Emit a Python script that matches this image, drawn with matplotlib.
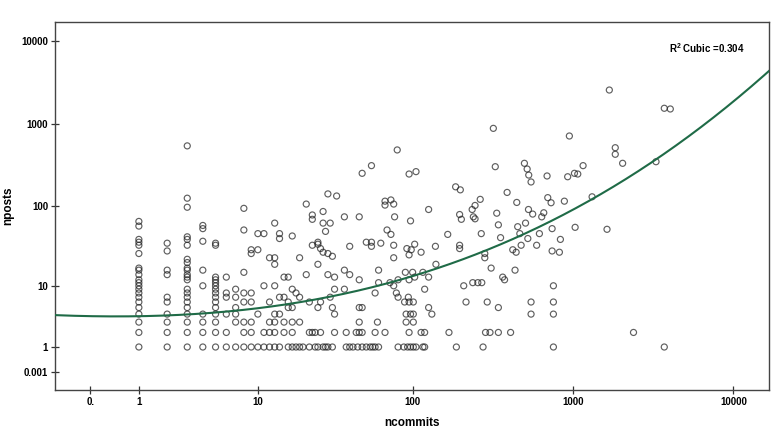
import numpy as np
import matplotlib
matplotlib.use("Agg")
import matplotlib.pyplot as plt

plt.rcParams['font.family'] = ['Liberation Sans', 'DejaVu Sans']
plt.rcParams['mathtext.fontset'] = 'custom'
plt.rcParams['mathtext.rm'] = 'Liberation Sans:bold'
plt.rcParams['mathtext.bf'] = 'Liberation Sans:bold'

# rows with few posts (nposts = 1..4), ncommits values along each row
row1_commits = [1, 2, 3, 4, 5, 6, 7, 8, 9, 10, 11, 12, 13, 14, 16, 17, 18, 19, 20, 22, 24, 25, 27,
                28, 29, 31, 38, 40, 42, 45, 48, 51, 54, 56, 58, 61, 81, 88, 93, 97, 101, 105, 116,
                119, 188, 276, 758, 3715]
row2_commits = [1, 2, 3, 4, 5, 6, 8, 9, 11, 12, 13, 15, 17, 22, 23, 24, 26, 32, 38, 44, 46, 48, 58,
                67, 95, 113, 119, 169, 286, 305, 344, 410, 2390]
row3_commits = [1, 2, 3, 4, 5, 7, 8, 9, 12, 13, 15, 17, 19, 46, 60, 91, 101]
row4_commits = [1, 2, 3, 4, 5, 6, 7, 10, 13, 14, 32, 91, 97, 101, 132, 550, 758]

# columns with few commits (ncommits = 1..5), nposts >= 5
col1_posts = [65, 57, 39, 36, 33, 26, 17, 16, 14, 12, 11, 10, 9, 8, 7, 6, 5]
col2_posts = [35, 28, 16, 14, 7, 6]
col3_posts = [540, 125, 97, 42, 39, 33, 22, 20, 17, 16, 14, 13, 12, 9, 8, 7, 6, 5]
col4_posts = [58, 53, 37, 16, 10]
col5_posts = [35, 33, 13, 12, 11, 10, 9, 8, 7, 6, 5]

# remaining projects (ncommits >= 6, nposts >= 5)
other_commits = [29, 33, 21, 23, 23, 27, 8, 8, 10, 11, 13, 14, 14, 17, 9, 9, 10, 12, 13, 13, 19, 23,
                 25, 25, 26, 27, 29, 31, 25, 21, 6, 8, 11, 13, 15, 16, 17, 18, 19, 29, 32, 7, 8, 9,
                 7, 8, 9, 7, 12, 14, 15, 16, 17, 16, 22, 25, 26, 27, 30, 28, 6, 6,
                 320, 953, 80, 55, 48, 95, 105, 329, 500, 520, 532, 550, 692, 930, 1025, 1075,
                 186, 199, 390, 265, 448, 699, 733, 887, 67, 73, 67, 76, 126, 236, 246, 240, 246,
                 197, 202, 336, 344, 355, 530, 563, 660, 508, 454, 468, 744, 1035, 620, 838, 37,
                 46, 97, 77, 69, 73, 166, 269, 63, 55, 51, 55, 40, 76, 76, 92, 98, 103, 95, 113,
                 139, 197, 197, 283, 283, 423, 444, 477, 525, 596, 744, 826, 140, 310, 437, 366,
                 376, 209, 238, 256, 271, 61, 90, 100, 116, 126, 103, 95, 81, 72, 61, 76, 58, 37,
                 40, 46, 32, 37, 30, 79, 81, 94, 119, 95, 89, 101, 216, 293, 550, 758, 758, 31,
                 46, 48, 126, 344,
                 1320, 1160, 641, 1690, 3715, 4050, 1840, 1840, 2045, 3300, 1635]
other_posts = [141, 133, 106, 78, 69, 86, 94, 51, 46, 46, 62, 46, 40, 43, 29, 26, 29, 23, 23, 19, 23,
               33, 36, 34, 30, 27, 26, 24, 19, 14, 13, 15, 10, 10, 13, 13, 9, 8, 7, 14, 13, 9, 8, 8,
               7, 6, 6, 5, 6, 7, 7, 6, 5, 5, 6, 5, 6, 62, 62, 49, 8, 7,
               880, 711, 482, 311, 251, 246, 263, 302, 332, 283, 239, 197, 233, 228, 251, 246,
               172, 158, 147, 121, 111, 127, 110, 115, 115, 119, 103, 106, 91, 91, 102, 74, 70,
               79, 69, 82, 59, 41, 91, 80, 83, 62, 56, 46, 53, 55, 46, 39, 74,
               74, 66, 74, 51, 45, 45, 46, 35, 36, 36, 32, 32, 33, 23, 30, 29, 34, 25, 27,
               32, 33, 30, 26, 23, 29, 27, 33, 40, 33, 28, 27, 19, 17, 16, 13,
               12, 10, 11, 11, 11, 16, 15, 15, 15, 13, 13, 12, 12, 11, 11, 10, 8, 16,
               14, 12, 9, 9, 7, 8, 7, 7, 9, 6, 6, 6, 6, 6, 6, 6, 10, 5,
               5, 5, 5, 5,
               130, 311, 74, 2560, 1540, 1510, 513, 427, 332, 347, 52]

# cubic fit, in safe-log units
fit_coef = [0.674, -0.035, 0.105, 0.0165]
r2_label = 'R$^{2}$ Cubic =0.304'


def safe_log(v):
    v = np.asarray(v, dtype=float)
    return np.sign(v) * np.log10(np.abs(v) + 1)


def safe_exp(t):
    t = np.asarray(t, dtype=float)
    return np.sign(t) * (10 ** np.abs(t) - 1)


ncommits = (row1_commits + row2_commits + row3_commits + row4_commits
            + [1] * len(col1_posts) + [2] * len(col2_posts) + [3] * len(col3_posts)
            + [4] * len(col4_posts) + [5] * len(col5_posts) + other_commits)
nposts = ([1] * len(row1_commits) + [2] * len(row2_commits) + [3] * len(row3_commits)
          + [4] * len(row4_commits) + col1_posts + col2_posts + col3_posts + col4_posts
          + col5_posts + other_posts)

fig = plt.figure(figsize=(7.83, 4.40), dpi=100)
ax = fig.add_axes([0.0702, 0.1136, 0.912, 0.8364])
ax.set_xscale('function', functions=(safe_log, safe_exp))
ax.set_yscale('function', functions=(safe_log, safe_exp))

ax.scatter(ncommits, nposts, s=19, facecolors='none', edgecolors='#222222',
           linewidths=0.85, alpha=0.72, zorder=2)

xmin_t, xmax_t = -0.221, 4.222
ymin_t, ymax_t = -0.219, 4.231
grid_t = np.linspace(xmin_t, xmax_t, 400)
fit_t = sum(c * grid_t ** i for i, c in enumerate(fit_coef))
ax.plot(safe_exp(grid_t), safe_exp(fit_t), color='#1f6b47', lw=1.5, zorder=3)

ax.set_xlim(safe_exp(xmin_t), safe_exp(xmax_t))
ax.set_ylim(safe_exp(ymin_t), safe_exp(ymax_t))

ax.set_xticks([0, 1, 10, 100, 1000, 10000])
ax.set_xticklabels(['0.', '1', '10', '100', '1000', '10000'])
ax.set_yticks([0.001, 1, 10, 100, 1000, 10000])
ax.set_yticklabels(['0.001', '1', '10', '100', '1000', '10000'])
ax.minorticks_off()
ax.tick_params(direction='inout', length=6, width=0.9, color='#333333',
               labelsize=7, pad=2)
for lab in ax.get_xticklabels() + ax.get_yticklabels():
    lab.set_fontweight('bold')

for sp in ax.spines.values():
    sp.set_color('#444444')
    sp.set_linewidth(1.0)

ax.set_xlabel('ncommits', fontsize=8.5, fontweight='bold', labelpad=7)
ax.set_ylabel('nposts', fontsize=8.5, fontweight='bold', labelpad=5)

ax.text(0.966, 0.93, r2_label, transform=ax.transAxes, ha='right', va='center',
        fontsize=7, fontweight='bold')

fig.savefig('out.png', dpi=100)
